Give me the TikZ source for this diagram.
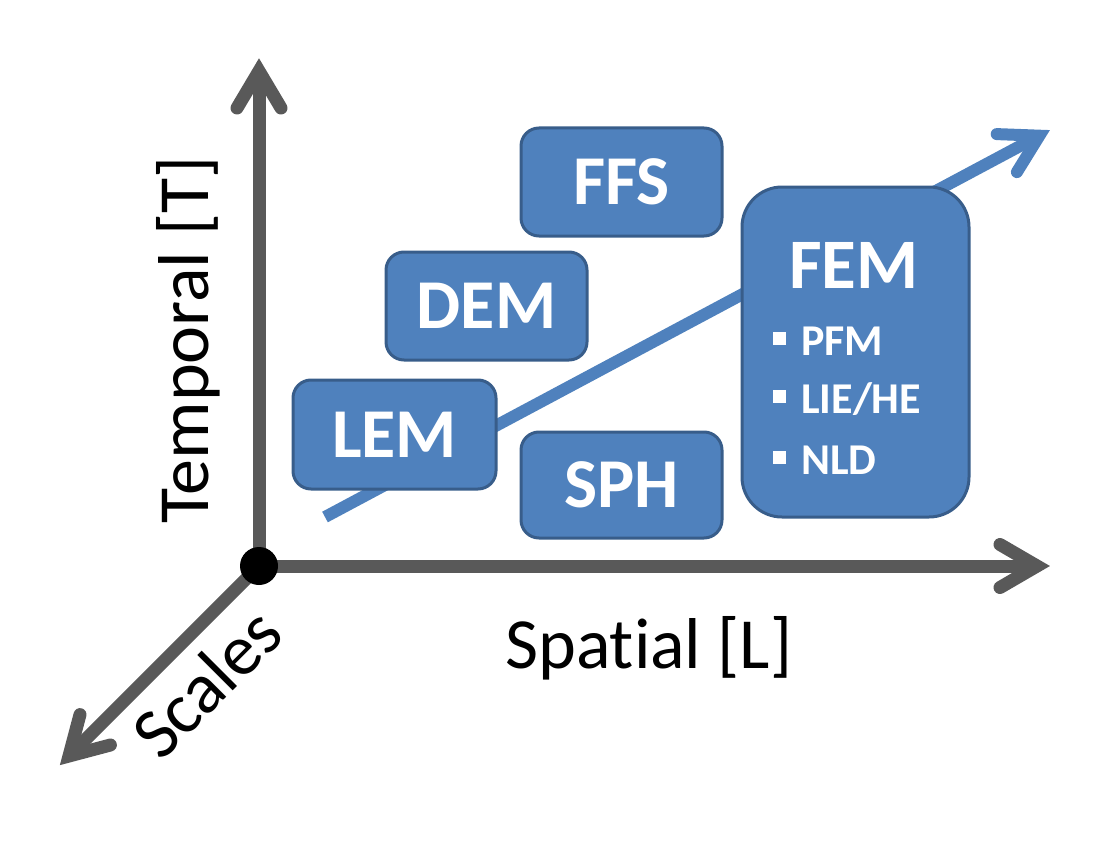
\documentclass[tikz,border=0pt]{standalone}
\usepackage{fontspec}
\setmainfont[Ligatures=NoCommon]{Carlito}
\usetikzlibrary{calc}
\definecolor{boxfill}{HTML}{4F81BD}
\definecolor{boxline}{HTML}{385D8A}
\definecolor{axisgrey}{HTML}{595959}
\tikzset{
  axisline/.style={draw=axisgrey, line width=13},
  axishead/.style={draw=axisgrey, line width=13, line cap=round, line join=miter},
  blueline/.style={draw=boxfill, line width=12},
  bluehead/.style={draw=boxfill, line width=12, line cap=round, line join=miter},
  mbox/.style={rectangle, draw=boxline, fill=boxfill, line width=3, rounded corners=18,
    text=white, font=\fontsize{70}{84}\selectfont\bfseries, inner sep=0pt},
  axlabel/.style={font=\fontsize{72}{86}\selectfont, inner sep=0pt, text=black},
  femtitle/.style={font=\fontsize{71}{85}\selectfont\bfseries, text=white, inner sep=0pt},
  femitem/.style={font=\fontsize{44}{53}\selectfont\bfseries, text=white, inner sep=0pt},
  bullet/.style={fill=white, draw=none}
}
\begin{document}
\begin{tikzpicture}[x=1pt,y=-1pt]
\useasboundingbox (0,0) rectangle (1115,845);
% coordinates
\coordinate (O) at (259,566);
\coordinate (vtip) at (259,71);
\coordinate (vb1) at (237,108);
\coordinate (vb2) at (281,108);
\coordinate (htip) at (1037,566);
\coordinate (hb1) at (1000,544.5);
\coordinate (hb2) at (1000,587.5);
\coordinate (dtip) at (69,756);
\coordinate (db1) at (110.4,745);
\coordinate (db2) at (80,714.6);
\coordinate (bstart) at (325,517);
\coordinate (btip) at (1039.4,135.7);
\coordinate (bb1) at (996.7,134.1);
\coordinate (bb2) at (1016.9,172.1);
% blue trend arrow (behind boxes)
\draw[blueline] (bstart) -- ($(btip)!4pt!(bstart)$);
\draw[bluehead] (bb1) -- (btip) -- (bb2);
% boxes
\node[mbox, minimum width=201, minimum height=108] (ffs) at (621.5,182) {FFS};
\node[mbox, minimum width=201, minimum height=108] (dem) at (486.5,306) {DEM};
\node[mbox, minimum width=203, minimum height=109] (lem) at (394.5,434.5) {LEM};
\node[mbox, minimum width=201, minimum height=106] (sph) at (621.5,485) {SPH};
\node[mbox, rounded corners=40, minimum width=227, minimum height=330] (fem) at (855.5,352) {};
\node[femtitle, anchor=base] (femt) at (854,288) {FEM};
\node[femitem, anchor=base west] (pfm) at (801,355) {PFM};
\node[femitem, anchor=base west] (lie) at (801,413) {LIE/HE};
\node[femitem, anchor=base west] (nld) at (801,474) {NLD};
\fill[bullet] (773,332) rectangle (786,345);
\fill[bullet] (773,390) rectangle (786,403);
\fill[bullet] (773,451) rectangle (786,464);
% axes
\draw[axisline] (O) -- ($(vtip)!4pt!(O)$);
\draw[axishead] (vb1) -- (vtip) -- (vb2);
\draw[axisline] (O) -- ($(htip)!4pt!(O)$);
\draw[axishead] (hb1) -- (htip) -- (hb2);
\draw[axisline] (O) -- ($(dtip)!4pt!(O)$);
\draw[axishead] (db1) -- (dtip) -- (db2);
\fill[black] (O) circle[radius=19];
% labels
\node[axlabel, anchor=base west] (spatial) at (505,668) {Spat\kern0pt ial [L]};
\node[axlabel, anchor=base, rotate=90] (temporal) at (208,340) {Temporal [T]};
\node[axlabel, anchor=base, rotate=45] (scales) at (224,700) {Scales};
\end{tikzpicture}
\end{document}
